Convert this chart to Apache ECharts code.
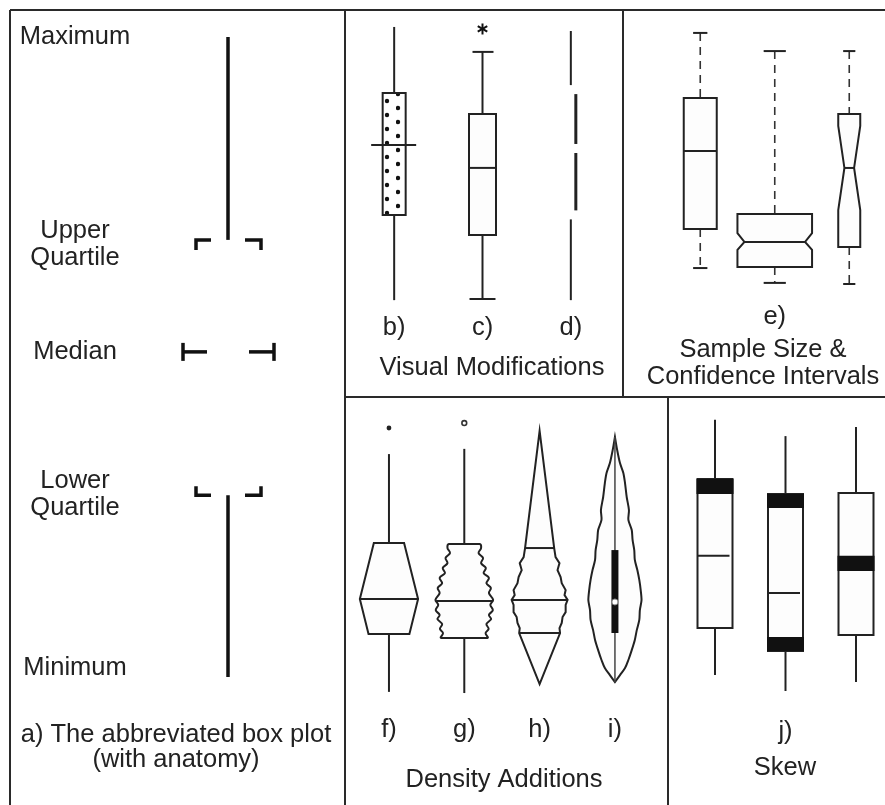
<!DOCTYPE html>
<html>
<head>
<meta charset="utf-8">
<title>Box plot variations</title>
<script src="https://cdn.jsdelivr.net/npm/echarts@6/dist/echarts.min.js"></script>
<style>
  html, body { margin: 0; padding: 0; background: #fff; }
  #chart { width: 885px; height: 805px; }
</style>
</head>
<body>
<div id="chart"></div>
<script>
// a) abbreviated box plot: min, lower quartile, median, upper quartile, max
const anatomyStats = [0, 28.4, 50.8, 68.3, 100];
const anatomyLabels = ['Minimum', 'Lower\nQuartile', 'Median', 'Upper\nQuartile', 'Maximum'];

// b) c) d) visual modifications
const visualCats = ['b)', 'c)', 'd)'];
const visualMin = [3.4, 3.8, 3.4];
const visualQ1 = [32.8, 25.9, 32.8];
const visualMed = [56.9, 49.0, 55.7];
const visualQ3 = [74.8, 67.6, 76.0];
const visualMax = [97.6, 89.0, 96.2];
const visualOutlier = [null, 96.9, null];

// e) sample size & confidence intervals
const ciCats = ['', 'e)', ''];
const ciN = [45, 230, 20];
const ciMin = [9.8, 4.4, 4.0];
const ciQ1 = [24.0, 10.2, 17.5];
const ciMed = [52.4, 19.3, 46.2];
const ciQ3 = [71.6, 29.5, 65.8];
const ciMax = [95.3, 88.7, 88.7];
const ciLow = [null, 16.4, 30.9];
const ciHigh = [null, 22.5, 61.5];

// f) g) h) i) density additions
const densCats = ['f)', 'g)', 'h)', 'i)'];
const densMin = [2.8, 2.4, 5.5, 6.2];
const densQ1 = [22.8, 21.4, 23.1, 23.1];
const densMed = [34.8, 34.1, 34.5, 33.8];
const densQ3 = [54.1, 53.8, 52.4, 51.7];
const densMax = [84.8, 86.6, 92.8, 90.7];
const densOutlier = [93.8, 95.5, null, null];
// f) histplot, density at Q1 / median / Q3
const histDensity = [0.73, 1.04, 0.54];
// g) vase plot, density between the quartiles
const vaseY = [53.8, 52.4, 50.7, 49.0, 47.2, 45.5, 43.8, 42.1, 40.3, 38.6, 36.9, 34.5, 32.8, 31.0, 29.3, 27.9, 26.2, 24.5, 23.1, 21.4];
const vaseD = [0.55, 0.60, 0.51, 0.67, 0.60, 0.77, 0.69, 0.88, 0.79, 0.95, 0.88, 1.03, 0.93, 1.02, 0.88, 0.96, 0.79, 0.87, 0.76, 0.83];
// h) density between the quartiles, tails run to max / min
const beanY = [52.4, 49.3, 47.2, 44.8, 42.4, 40.3, 37.9, 36.2, 34.5, 32.8, 30.3, 28.6, 26.6, 24.8, 23.1];
const beanD = [0.52, 0.57, 0.71, 0.64, 0.75, 0.79, 0.93, 0.89, 1.0, 0.93, 0.93, 0.82, 0.79, 0.71, 0.73];
// i) violin plot density
const violinY = [90.7, 86.2, 81.7, 78.3, 74.8, 70.0, 65.5, 62.1, 58.6, 55.2, 51.7, 48.3, 44.8, 41.4, 37.9, 34.5, 31.0, 27.6, 24.1, 20.7, 17.2, 13.8, 11.0, 8.6, 6.2];
const violinD = [0, 0.08, 0.18, 0.30, 0.36, 0.42, 0.50, 0.48, 0.60, 0.63, 0.69, 0.71, 0.80, 0.87, 0.92, 0.95, 0.89, 0.87, 0.78, 0.71, 0.60, 0.48, 0.36, 0.18, 0];

// j) skew
const skewCats = ['', 'j)', ''];
const skewMin = [8.6, 3.1, 6.2];
const skewQ1 = [24.8, 16.9, 22.4];
const skewMed = [49.7, 36.9, 47.1];
const skewQ3 = [76.2, 71.0, 71.4];
const skewMax = [96.6, 91.0, 94.1];
const skewBands = [[[71.0, 76.2]], [[66.2, 71.0], [16.9, 21.7]], [[44.5, 49.7]]];

const INK = '#222';
const FONT = "'Liberation Sans', Arial, Helvetica, sans-serif";
const FONT_SIZE = 25.5;
const DENS_PX = 28; // pixels per density unit
const NO_OVERSHOOT = [[Infinity, Infinity], [-Infinity, -Infinity]]; // keep smoothing inside the points' box

// dotted fill for b)
const dotTile = document.createElement('canvas');
dotTile.width = 22;
dotTile.height = 14;
const tctx = dotTile.getContext('2d');
tctx.fillStyle = '#fff';
tctx.fillRect(0, 0, 22, 14);
tctx.fillStyle = '#111';
[[13, 3], [2, 10]].forEach(([dx, dy]) => {
  tctx.beginPath();
  tctx.arc(dx, dy, 2.2, 0, Math.PI * 2);
  tctx.fill();
});
const dotPattern = { image: dotTile, repeat: 'repeat' };

function seg(x1, y1, x2, y2, extra) {
  return {
    type: 'line',
    shape: { x1, y1, x2, y2 },
    style: Object.assign({ stroke: INK, lineWidth: 2 }, extra)
  };
}
function poly(points, extra, type) {
  return {
    type: type || 'polyline',
    shape: { points },
    style: Object.assign({ stroke: INK, lineWidth: 2, fill: type === 'polygon' ? '#fdfdfd' : null }, extra)
  };
}
function densityAt(ys, ds, v) {
  for (let k = 0; k < ys.length - 1; k++) {
    const a = ys[k], b = ys[k + 1];
    if ((v <= a && v >= b) || (v >= a && v <= b)) {
      const t = (v - a) / (b - a);
      return ds[k] + t * (ds[k + 1] - ds[k]);
    }
  }
  return ds[ds.length - 1];
}
function statCoords(api, i) {
  const x = api.coord([i, 0])[0];
  const y = v => api.coord([i, v])[1];
  return { x, y, min: y(api.value(1)), q1: y(api.value(2)), med: y(api.value(3)), q3: y(api.value(4)), max: y(api.value(5)) };
}

function renderAnatomy(params, api) {
  const x = api.coord([0, 0])[0];
  const ys = anatomyStats.map(v => api.coord([0, v])[1]);
  const [yMin, yQ1, yMed, yQ3, yMax] = ys;
  const s = { stroke: '#111', lineWidth: 3.5 };
  const kids = [
    seg(x, yMax, x, yQ3, s),
    seg(x, yQ1, x, yMin, s),
    poly([[x - 32, yQ3 + 10], [x - 32, yQ3], [x - 17, yQ3]], s),
    poly([[x + 17, yQ3], [x + 33, yQ3], [x + 33, yQ3 + 10]], s),
    poly([[x - 32, yQ1 - 9], [x - 32, yQ1], [x - 17, yQ1]], s),
    poly([[x + 17, yQ1], [x + 33, yQ1], [x + 33, yQ1 - 9]], s),
    seg(x - 45, yMed - 9, x - 45, yMed + 9, s),
    seg(x - 45, yMed, x - 21, yMed, s),
    seg(x + 21, yMed, x + 46, yMed, s),
    seg(x + 46, yMed - 9, x + 46, yMed + 9, s)
  ];
  const dy = [-9, -1, 0, 5, 0];
  anatomyLabels.forEach((t, k) => {
    kids.push({
      type: 'text',
      style: {
        text: t, x: x - 153, y: ys[k] + dy[k],
        align: 'center', verticalAlign: 'middle',
        fontSize: FONT_SIZE, fontFamily: FONT, lineHeight: 27, fill: INK
      }
    });
  });
  return { type: 'group', children: kids };
}

function renderVisual(params, api) {
  const i = params.dataIndex;
  const c = statCoords(api, i);
  const x = c.x;
  const kids = [];
  if (i === 0) {
    kids.push(seg(x, c.max, x, c.q3), seg(x, c.q1, x, c.min));
    kids.push({ type: 'rect', shape: { x: x - 11.5, y: c.q3, width: 23, height: c.q1 - c.q3 },
      style: { fill: dotPattern, stroke: INK, lineWidth: 2 } });
    kids.push(seg(x - 23, c.med, x + 22, c.med));
  } else if (i === 1) {
    kids.push(seg(x, c.max, x, c.q3), seg(x, c.q1, x, c.min));
    kids.push(seg(x - 10, c.max, x + 11, c.max), seg(x - 13, c.min, x + 13, c.min));
    kids.push({ type: 'rect', shape: { x: x - 13.5, y: c.q3, width: 27, height: c.q1 - c.q3 },
      style: { fill: '#fdfdfd', stroke: INK, lineWidth: 2 } });
    kids.push(seg(x - 13.5, c.med, x + 13.5, c.med));
    if (visualOutlier[i] != null) {
      const yo = c.y(visualOutlier[i]);
      const r = 5.5;
      for (let a = 0; a < 3; a++) {
        const ang = Math.PI / 2 + a * Math.PI / 3;
        kids.push(seg(x - r * Math.cos(ang), yo - r * Math.sin(ang), x + r * Math.cos(ang), yo + r * Math.sin(ang), { lineWidth: 2, stroke: '#111' }));
      }
    }
  } else {
    const gap = 4.5, off = 5;
    kids.push(seg(x, c.max, x, c.q3 - gap));
    kids.push(seg(x + off, c.q3 + gap, x + off, c.med - gap, { lineWidth: 3 }));
    kids.push(seg(x + off, c.med + gap, x + off, c.q1 - gap, { lineWidth: 3 }));
    kids.push(seg(x, c.q1 + gap, x, c.min));
  }
  return { type: 'group', children: kids };
}

function renderCI(params, api) {
  const i = params.dataIndex;
  const c = statCoords(api, i);
  const x = c.x;
  const w = 4.92 * Math.sqrt(ciN[i]); // width grows with sqrt(n)
  const hw = w / 2;
  const cap = 4 + w * 0.095;
  const dash = { lineDash: [8, 6], lineWidth: 1.6, stroke: '#333' };
  const kids = [
    seg(x, c.max, x, c.q3, dash),
    seg(x, c.q1, x, c.min, dash),
    seg(x - cap, c.max, x + cap, c.max),
    seg(x - cap, c.min, x + cap, c.min)
  ];
  let inset = 0;
  if (ciLow[i] == null) {
    kids.push({ type: 'rect', shape: { x: x - hw, y: c.q3, width: w, height: c.q1 - c.q3 },
      style: { fill: '#fdfdfd', stroke: INK, lineWidth: 2 } });
  } else {
    const yHi = c.y(ciHigh[i]), yLo = c.y(ciLow[i]);
    inset = Math.min(7, w * 0.28);
    kids.push(poly([
      [x - hw, c.q3], [x + hw, c.q3], [x + hw, yHi], [x + hw - inset, c.med], [x + hw, yLo],
      [x + hw, c.q1], [x - hw, c.q1], [x - hw, yLo], [x - hw + inset, c.med], [x - hw, yHi]
    ], {}, 'polygon'));
  }
  kids.push(seg(x - hw + inset, c.med, x + hw - inset, c.med));
  return { type: 'group', children: kids };
}

function profilePolygon(x, y, ys, ds) {
  const right = ys.map((v, k) => [x + ds[k] * DENS_PX, y(v)]);
  const left = ys.map((v, k) => [x - ds[k] * DENS_PX, y(v)]).reverse();
  return right.concat(left);
}

function renderDensity(params, api) {
  const i = params.dataIndex;
  const c = statCoords(api, i);
  const x = c.x;
  const kids = [];
  if (i === 0 || i === 1) {
    kids.push(seg(x, c.max, x, c.q3), seg(x, c.q1, x, c.min));
    const yo = c.y(densOutlier[i]);
    kids.push({ type: 'circle', shape: { cx: x, cy: yo, r: 2.4 },
      style: i === 0 ? { fill: '#222' } : { fill: '#fff', stroke: '#333', lineWidth: 1.6 } });
  }
  if (i === 0) {
    const [dQ1, dMed, dQ3] = histDensity.map(d => d * DENS_PX);
    kids.push(poly([[x - dQ3, c.q3], [x + dQ3, c.q3], [x + dMed, c.med], [x + dQ1, c.q1], [x - dQ1, c.q1], [x - dMed, c.med]], {}, 'polygon'));
    kids.push(seg(x - dMed, c.med, x + dMed, c.med));
  } else if (i === 1) {
    const shape = poly(profilePolygon(x, c.y, vaseY, vaseD), {}, 'polygon');
    shape.shape.smooth = 0.35;
    shape.shape.smoothConstraint = NO_OVERSHOOT;
    kids.push(shape);
    const dm = densityAt(vaseY, vaseD, api.value(3)) * DENS_PX;
    kids.push(seg(x - dm, c.med, x + dm, c.med));
  } else if (i === 2) {
    const pts = [[x, c.max]].concat(beanY.map((v, k) => [x + beanD[k] * DENS_PX, c.y(v)]));
    pts.push([x, c.min]);
    const back = beanY.map((v, k) => [x - beanD[k] * DENS_PX, c.y(v)]).reverse();
    kids.push(poly(pts.concat(back), {}, 'polygon'));
    const d3 = beanD[0] * DENS_PX, d1 = beanD[beanD.length - 1] * DENS_PX;
    const dm = densityAt(beanY, beanD, api.value(3)) * DENS_PX;
    kids.push(seg(x - d3, c.q3, x + d3, c.q3), seg(x - dm, c.med, x + dm, c.med), seg(x - d1, c.q1, x + d1, c.q1));
  } else {
    const shape = poly(profilePolygon(x, c.y, violinY, violinD), {}, 'polygon');
    shape.shape.smooth = 0.3;
    shape.shape.smoothConstraint = NO_OVERSHOOT;
    kids.push(shape);
    kids.push(seg(x, c.max, x, c.min, { lineWidth: 1.5, stroke: '#444' }));
    kids.push({ type: 'rect', shape: { x: x - 3.5, y: c.q3, width: 7, height: c.q1 - c.q3 }, style: { fill: '#111' } });
    kids.push({ type: 'circle', shape: { cx: x, cy: c.med, r: 3 }, style: { fill: '#fff', stroke: '#888', lineWidth: 1 } });
  }
  return { type: 'group', children: kids };
}

function renderSkew(params, api) {
  const i = params.dataIndex;
  const c = statCoords(api, i);
  const x = c.x;
  const hw = 17.5;
  const kids = [
    seg(x, c.max, x, c.q3), seg(x, c.q1, x, c.min),
    { type: 'rect', shape: { x: x - hw, y: c.q3, width: 2 * hw, height: c.q1 - c.q3 },
      style: { fill: '#fdfdfd', stroke: INK, lineWidth: 2 } },
    seg(x - hw, c.med, x + hw - 3, c.med)
  ];
  skewBands[i].forEach(([lo, hi]) => {
    const y1 = c.y(hi), y2 = c.y(lo);
    kids.push({ type: 'rect', shape: { x: x - hw - 1, y: y1, width: 2 * hw + 2, height: y2 - y1 }, style: { fill: '#111' } });
  });
  return { type: 'group', children: kids };
}

function catAxis(gridIndex, data, margin) {
  return {
    type: 'category', gridIndex, data,
    axisLine: { show: false }, axisTick: { show: false }, splitLine: { show: false },
    axisLabel: { interval: 0, margin, fontSize: FONT_SIZE, lineHeight: 28, color: INK, fontFamily: FONT }
  };
}
function valAxis(gridIndex) {
  return { type: 'value', gridIndex, min: 0, max: 100, show: false, splitLine: { show: false } };
}
function rows(cats, cols) {
  return cats.map((_, i) => [i].concat(cols.map(col => col[i])));
}

const frameLines = [
  [10, 10, 885, 10], [10, 10, 10, 805], [345, 10, 345, 805],
  [345, 397, 885, 397], [623, 10, 623, 397], [668, 397, 668, 805]
];
const captions = [
  ['a) The abbreviated box plot\n(with anatomy)', 176, 747, 25],
  ['Visual Modifications', 492, 368, 27],
  ['Sample Size &\nConfidence Intervals', 763, 363, 27],
  ['Density Additions', 504, 780, 27],
  ['Skew', 785, 768, 27]
];

const chart = echarts.init(document.getElementById('chart'), null, { renderer: 'canvas' });
chart.setOption({
  animation: false,
  backgroundColor: '#fff',
  grid: [
    { left: 188, width: 80, top: 37, height: 640, outerBoundsMode: 'none', containLabel: false },
    { left: 350, width: 265, top: 20, height: 290, outerBoundsMode: 'none', containLabel: false },
    { left: 663, width: 223.5, top: 20, height: 275, outerBoundsMode: 'none', containLabel: false },
    { left: 351.3, width: 301.3, top: 410, height: 290, outerBoundsMode: 'none', containLabel: false },
    { left: 679.75, width: 211.5, top: 410, height: 290, outerBoundsMode: 'none', containLabel: false }
  ],
  xAxis: [
    catAxis(0, [''], 8),
    catAxis(1, visualCats, 4),
    catAxis(2, ciCats, 8),
    catAxis(3, densCats, 16),
    catAxis(4, skewCats, 18)
  ],
  yAxis: [valAxis(0), valAxis(1), valAxis(2), valAxis(3), valAxis(4)],
  series: [
    { type: 'custom', xAxisIndex: 0, yAxisIndex: 0, renderItem: renderAnatomy,
      data: [[0].concat(anatomyStats)], encode: { x: 0, y: [1, 2, 3, 4, 5] } },
    { type: 'custom', xAxisIndex: 1, yAxisIndex: 1, renderItem: renderVisual,
      data: rows(visualCats, [visualMin, visualQ1, visualMed, visualQ3, visualMax]), encode: { x: 0, y: [1, 2, 3, 4, 5] } },
    { type: 'custom', xAxisIndex: 2, yAxisIndex: 2, renderItem: renderCI,
      data: rows(ciCats, [ciMin, ciQ1, ciMed, ciQ3, ciMax]), encode: { x: 0, y: [1, 2, 3, 4, 5] } },
    { type: 'custom', xAxisIndex: 3, yAxisIndex: 3, renderItem: renderDensity,
      data: rows(densCats, [densMin, densQ1, densMed, densQ3, densMax]), encode: { x: 0, y: [1, 2, 3, 4, 5] } },
    { type: 'custom', xAxisIndex: 4, yAxisIndex: 4, renderItem: renderSkew,
      data: rows(skewCats, [skewMin, skewQ1, skewMed, skewQ3, skewMax]), encode: { x: 0, y: [1, 2, 3, 4, 5] } }
  ],
  graphic: frameLines.map(([x1, y1, x2, y2]) => ({
    type: 'line', silent: true, shape: { x1, y1, x2, y2 },
    style: { stroke: '#2a2a2a', lineWidth: 2 }
  })).concat(captions.map(([text, x, y, lh]) => ({
    type: 'text', silent: true,
    style: {
      text, x, y, fill: INK, fontSize: FONT_SIZE, fontFamily: FONT, lineHeight: lh,
      align: 'center', verticalAlign: 'middle', textAlign: 'center', textVerticalAlign: 'middle'
    }
  })))
});
</script>
</body>
</html>
